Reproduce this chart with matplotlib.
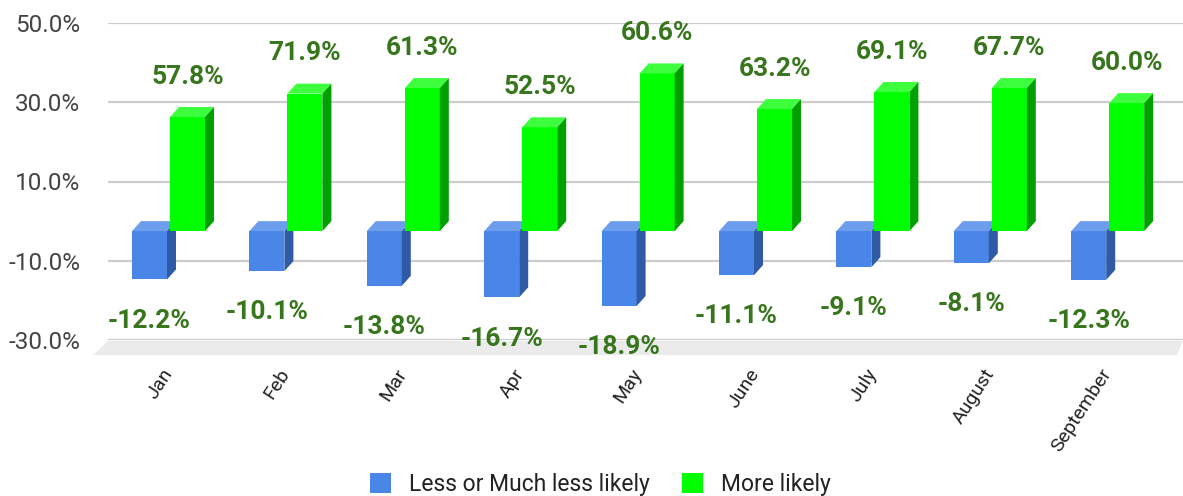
import matplotlib
matplotlib.use("Agg")
import matplotlib.pyplot as plt
from matplotlib.patches import Polygon, Patch

# ---------------- data ----------------
months = ["Jan", "Feb", "Mar", "Apr", "May", "June", "July", "August", "September"]
less_likely = [-12.2, -10.1, -13.8, -16.7, -18.9, -11.1, -9.1, -8.1, -12.3]
more_likely_bar = [28.8, 34.7, 36.1, 26.2, 39.8, 30.8, 35.1, 36.1, 32.3]
more_likely_labels = [57.8, 71.9, 61.3, 52.5, 60.6, 63.2, 69.1, 67.7, 60.0]
y_ticks = [-30, -10, 10, 30, 50]
series_names = ["Less or Much less likely", "More likely"]

# ---------------- style ----------------
FONT = "Roboto"
BLUE = ("#4a86e8", "#6d9eee", "#2f5aa6")     # front, top, side
GREEN = ("#00ff00", "#3dff3d", "#00a000")
LABEL_C = "#38761d"
GRID_C = "#cccccc"

W, H = 1183, 496
fig = plt.figure(figsize=(W / 100, H / 100), dpi=100)
ax = fig.add_axes([108 / W, (H - 340) / H, 1 - 108 / W, (340 - 23) / H])

px_per_cat = 117.4
px_per_unit = 317 / 80.0
ax.set_xlim((108 - 168.5) / px_per_cat, (1183 - 168.5) / px_per_cat)
ax.set_ylim(-30, 50)

bw = 35 / px_per_cat          # bar width
gap = 1.5 / px_per_cat
dx = 9 / px_per_cat           # 3D depth offsets
dy = 10 / px_per_unit

for s in ax.spines.values():
    s.set_visible(False)
ax.set_facecolor("none")
ax.set_yticks(y_ticks)
ax.set_yticklabels([f"{t:.1f}%" for t in y_ticks], fontsize=17.5,
                   color="#444444", family=FONT)
ax.tick_params(axis="y", length=0, pad=20)
ax.yaxis.grid(True, color=GRID_C, linewidth=1.6, zorder=0)
ax.set_axisbelow(True)

ax.set_xticks(range(len(months)))
ax.set_xticklabels(months, rotation=57, ha="right", va="center",
                   rotation_mode="anchor", fontsize=14, color="#222222",
                   family=FONT)
ax.tick_params(axis="x", length=0, pad=22)

# floor
floor = Polygon([((108 - 168.5) / px_per_cat, -30.2),
                 ((1183 - 168.5) / px_per_cat, -30.2),
                 ((1177 - 168.5) / px_per_cat, -33.8),
                 ((93 - 168.5) / px_per_cat, -33.8)],
                closed=True, facecolor="#ebebeb", edgecolor="none",
                clip_on=False, zorder=0.5)
ax.add_patch(floor)


def bar3d(xs, vals, cols, z):
    bars = ax.bar(xs, [abs(v) for v in vals],
                  bottom=[min(0, v) - dy for v in vals],
                  width=bw, align="edge", color=cols[0], zorder=z,
                  linewidth=0)
    for x0, v in zip(xs, vals):
        lo, hi = min(0, v), max(0, v)
        top = Polygon([(x0, hi - dy), (x0 + bw, hi - dy),
                       (x0 + bw + dx, hi), (x0 + dx, hi)],
                      closed=True, facecolor=cols[1], edgecolor="none",
                      zorder=z)
        side = Polygon([(x0 + bw, lo - dy), (x0 + bw + dx, lo),
                        (x0 + bw + dx, hi), (x0 + bw, hi - dy)],
                       closed=True, facecolor=cols[2], edgecolor="none",
                       zorder=z)
        ax.add_patch(top)
        ax.add_patch(side)
    return bars


for i in range(len(months)):
    bar3d([i - gap - bw], [less_likely[i]], BLUE, 2 + i * 0.1)
    bar3d([i + gap], [more_likely_bar[i]], GREEN, 2.05 + i * 0.1)

# value labels
for i in range(len(months)):
    ax.text(i + gap + bw / 2, more_likely_bar[i] + 5.9,
            f"{more_likely_labels[i]:.1f}%", ha="center", va="baseline",
            fontsize=19, fontweight="bold", color=LABEL_C, family=FONT,
            zorder=5)
    ax.text(i - gap - bw / 2, less_likely[i] - 14.7,
            f"{less_likely[i]:.1f}%", ha="center", va="baseline",
            fontsize=19, fontweight="bold", color=LABEL_C, family=FONT,
            zorder=5, clip_on=False)

handles = [Patch(facecolor=BLUE[0], edgecolor="none"),
           Patch(facecolor=GREEN[0], edgecolor="none")]
leg = fig.legend(handles, series_names, loc="center",
                 bbox_to_anchor=(600 / W, (H - 484) / H), ncol=2,
                 frameon=False, handlelength=0.95, handleheight=0.95,
                 handletextpad=0.75, columnspacing=1.4,
                 prop={"family": FONT, "size": 16.5})
for t in leg.get_texts():
    t.set_color("#222222")

fig.savefig("out.png", dpi=100)
